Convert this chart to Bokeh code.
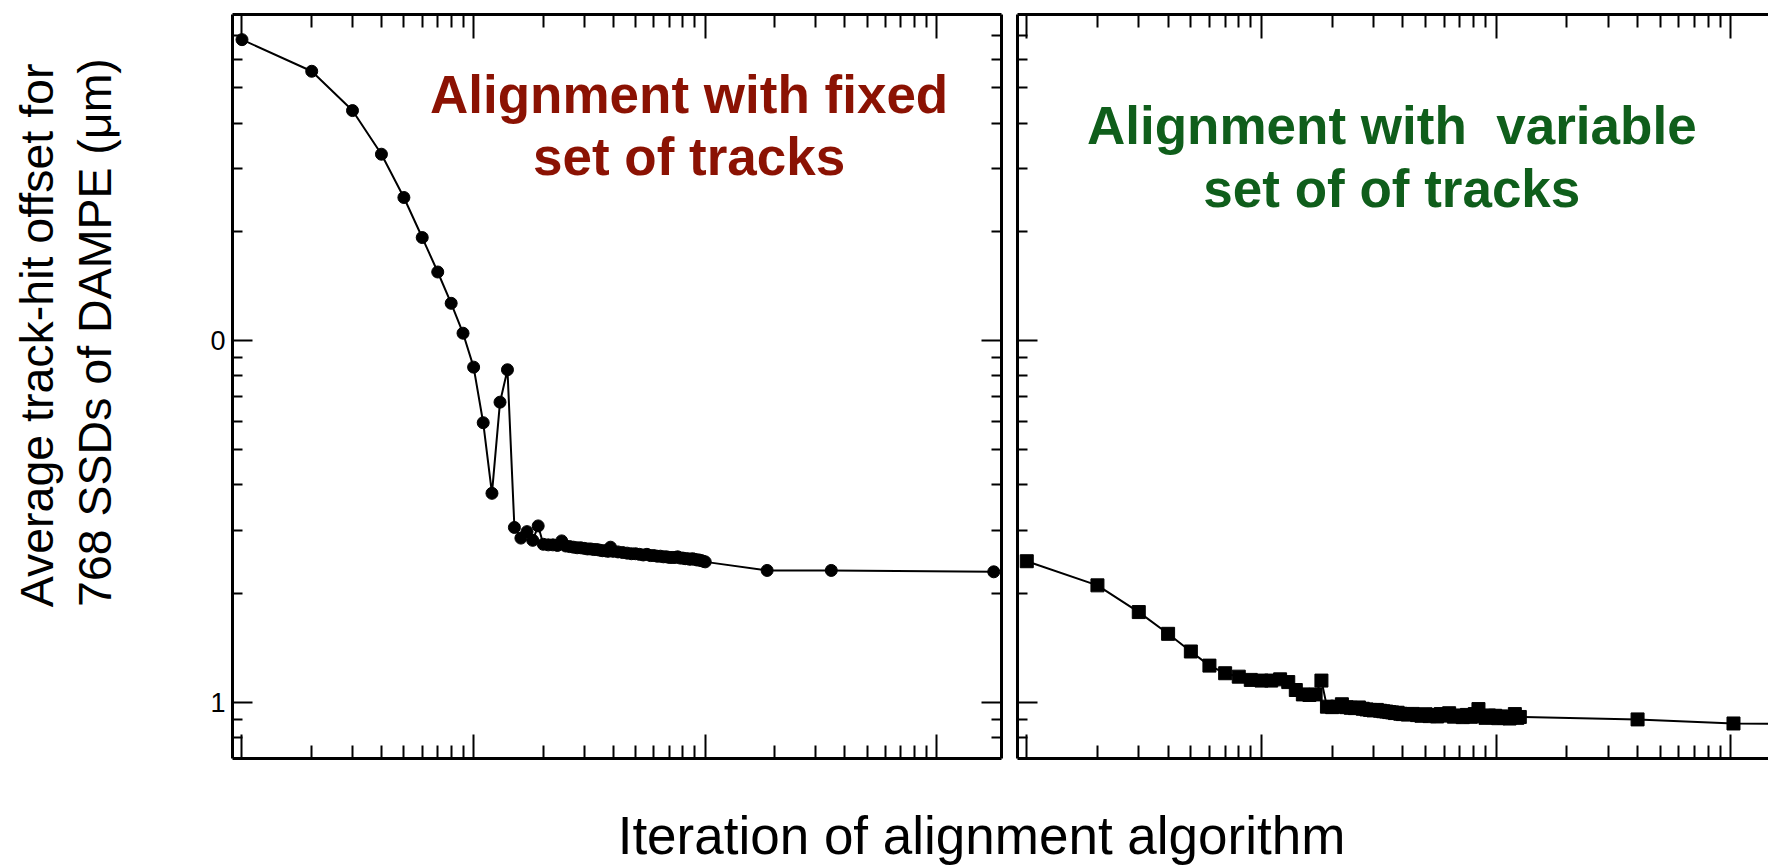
import math
from bokeh.plotting import figure
from bokeh.models import (Range1d, FixedTicker, LogAxis, Label, ColumnDataSource,
                          CustomJSTickFormatter)
from bokeh.layouts import row, column
from bokeh.embed import file_html
from bokeh.resources import INLINE

# ---------------- data ----------------
fixed_iter = [1, 2, 3, 4, 5, 6, 7, 8, 9, 10,
              11, 12, 13, 14, 15, 16, 17, 18, 19, 20,
              21, 22, 23, 24, 25, 26, 27, 28, 29, 30,
              31, 32, 33, 34, 35, 36, 37, 38, 39, 40,
              42, 44, 46, 48, 50, 52, 54, 56, 58, 60,
              62, 64, 66, 68, 70, 72, 74, 76, 78, 80,
              82, 84, 86, 88, 90, 92, 94, 96, 98, 100,
              185, 350, 1760]
fixed_offset = [68.0, 55.6, 43.3, 32.8, 24.9, 19.3, 15.5, 12.7, 10.5, 8.46,
                5.94, 3.79, 6.77, 8.32, 3.05, 2.85, 2.97, 2.81, 3.08, 2.74,
                2.73, 2.73, 2.72, 2.80, 2.71, 2.70, 2.69, 2.68, 2.68, 2.67,
                2.66, 2.66, 2.65, 2.65, 2.64, 2.63, 2.63, 2.62, 2.69, 2.62,
                2.61, 2.60, 2.59, 2.58, 2.58, 2.57, 2.56, 2.57, 2.55, 2.55,
                2.54, 2.54, 2.53, 2.53, 2.52, 2.52, 2.52, 2.53, 2.51, 2.51,
                2.50, 2.50, 2.49, 2.50, 2.49, 2.48, 2.48, 2.47, 2.46, 2.45,
                2.32, 2.32, 2.30]

var_iter = [1, 2, 3, 4, 5, 6, 7, 8, 9, 10,
            11, 12, 13, 14, 15, 16, 17, 18, 19, 20,
            21, 22, 23, 24, 25, 26, 27, 28, 29, 30,
            31, 32, 33, 34, 35, 36, 37, 38, 39, 40,
            42, 44, 46, 48, 50, 52, 54, 56, 58, 60,
            63, 66, 69, 72, 75, 78, 81, 84, 87, 90,
            93, 96, 99, 102, 105, 108, 111, 114, 117, 120,
            123, 126,
            400, 1025, 2000]
var_offset = [2.46, 2.11, 1.78, 1.55, 1.385, 1.266, 1.206, 1.18, 1.156, 1.151,
              1.151, 1.16, 1.14, 1.084, 1.054, 1.05, 1.054, 1.151, 0.975, 0.972,
              0.975, 0.990, 0.972, 0.968, 0.966, 0.970, 0.962, 0.958, 0.955, 0.952,
              0.955, 0.950, 0.947, 0.945, 0.942, 0.940, 0.936, 0.938, 0.932, 0.930,
              0.927, 0.931, 0.924, 0.920, 0.929, 0.918, 0.925, 0.916, 0.930, 0.921,
              0.935, 0.915, 0.922, 0.912, 0.925, 0.914, 0.930, 0.960, 0.918, 0.908,
              0.922, 0.912, 0.920, 0.906, 0.916, 0.908, 0.914, 0.904, 0.912, 0.930,
              0.908, 0.913,
              0.899, 0.876, 0.872]

x_major_ticks = [1, 10, 100, 1000]
y_major_ticks = [1, 10]
y_tick_labels = {"10": "0", "1": "1"}

title_fixed = ["Alignment with fixed", "set of tracks"]
title_var = ["Alignment with \u00a0variable", "set of of tracks"]
y_title = ["Average track-hit offset for", "768 SSDs of DAMPE (\u03bcm)"]
x_title = "Iteration of alignment algorithm"

RED = "#8B1203"
GREEN = "#0F5E1B"
FONT = "Liberation Sans"

x_minor_ticks = [m * d for d in (1, 10, 100, 1000) for m in range(2, 10)]
y_minor_ticks = [round(m * d, 3) for d in (0.1, 1, 10) for m in range(2, 10)]

Y_RANGE = (0.701, 79.8)
H = 772


def style_axis(ax, is_x, labels=False):
    ax.axis_line_width = 3
    ax.axis_line_color = "black"
    ax.major_tick_line_width = 2
    ax.minor_tick_line_width = 2
    ax.major_tick_line_color = "black"
    ax.minor_tick_line_color = "black"
    ax.major_tick_out = 0
    ax.minor_tick_out = 0
    ax.major_tick_in = 24 if is_x else 20
    ax.minor_tick_in = 13 if is_x else 10
    if is_x:
        ax.ticker = FixedTicker(ticks=x_major_ticks, minor_ticks=x_minor_ticks)
    else:
        ax.ticker = FixedTicker(ticks=y_major_ticks, minor_ticks=y_minor_ticks)
    if labels:
        ax.formatter = CustomJSTickFormatter(
            args=dict(lab=y_tick_labels),
            code="const k = String(Math.round(tick)); return (k in lab) ? lab[k] : '';")
        ax.major_label_text_font = FONT
        ax.major_label_text_font_size = "27px"
        ax.major_label_text_color = "black"
        ax.major_label_standoff = 7
    else:
        ax.major_label_text_font_size = "1px"
        ax.major_label_text_alpha = 0
        ax.major_label_standoff = 0


def make_panel(x_range, width, b_left, b_right, left_labels, right_axis):
    p = figure(width=width, height=H, x_axis_type="log", y_axis_type="log",
               x_range=Range1d(*x_range), y_range=Range1d(*Y_RANGE),
               min_border_left=b_left, min_border_right=b_right,
               min_border_top=14, min_border_bottom=14,
               output_backend="svg", toolbar_location=None, title=None)
    p.outline_line_color = None
    p.xgrid.grid_line_color = None
    p.ygrid.grid_line_color = None
    p.background_fill_color = "white"
    p.border_fill_color = "white"
    for ax in p.xaxis:
        style_axis(ax, True)
    for ax in p.yaxis:
        style_axis(ax, False, labels=left_labels)
    top = LogAxis()
    style_axis(top, True)
    p.add_layout(top, "above")
    if right_axis:
        r = LogAxis()
        style_axis(r, False)
        p.add_layout(r, "right")
    return p


def title_label(x, y, text, color, size="53px", bold=True, angle=0.0):
    return Label(x=x, y=y, text=text, angle=angle, text_align="center",
                 text_baseline="alphabetic", text_font=FONT,
                 text_font_style="bold" if bold else "normal",
                 text_font_size=size, text_color=color)


# label strip on the left
p_lab = figure(width=140, height=H, x_range=Range1d(0, 140), y_range=Range1d(0, H),
               min_border=0, x_axis_location=None, y_axis_location=None,
               output_backend="svg", toolbar_location=None, title=None)
p_lab.outline_line_color = None
p_lab.grid.grid_line_color = None
p_lab.add_layout(title_label(36, H - 333, y_title[0], "black", "46.5px", False, math.pi / 2))
p_lab.add_layout(title_label(94, H - 330, y_title[1], "black", "46.5px", False, math.pi / 2))

# left panel: fixed set of tracks
pL = make_panel((0.91, 1901), 869, 92, 8, True, True)
srcL = ColumnDataSource(dict(x=fixed_iter, y=fixed_offset))
pL.line("x", "y", source=srcL, line_width=2, line_color="black")
pL.scatter("x", "y", source=srcL, marker="circle", size=12, color="black")
pL.add_layout(title_label(85.2, 48.1, title_fixed[0], RED))
pL.add_layout(title_label(85.2, 32.4, title_fixed[1], RED))

# right panel: variable set of tracks
pR = make_panel((0.913, 1445), 759, 8, 0, False, False)
srcR = ColumnDataSource(dict(x=var_iter, y=var_offset))
pR.line("x", "y", source=srcR, line_width=2, line_color="black")
pR.scatter("x", "y", source=srcR, marker="square", size=13, color="black")
pR.add_layout(title_label(35.9, 39.3, title_var[0], GREEN))
pR.add_layout(title_label(35.9, 26.3, title_var[1], GREEN))

# bottom title strip
p_bot = figure(width=1768, height=866 - H, x_range=Range1d(0, 1768), y_range=Range1d(0, 866 - H),
               min_border=0, x_axis_location=None, y_axis_location=None,
               output_backend="svg", toolbar_location=None, title=None)
p_bot.outline_line_color = None
p_bot.grid.grid_line_color = None
p_bot.add_layout(title_label(981, 31, x_title, "black", "53px", False))

layout = column(row(p_lab, pL, pR), p_bot)

with open("out.html", "w") as f:
    f.write(file_html(layout, INLINE))
